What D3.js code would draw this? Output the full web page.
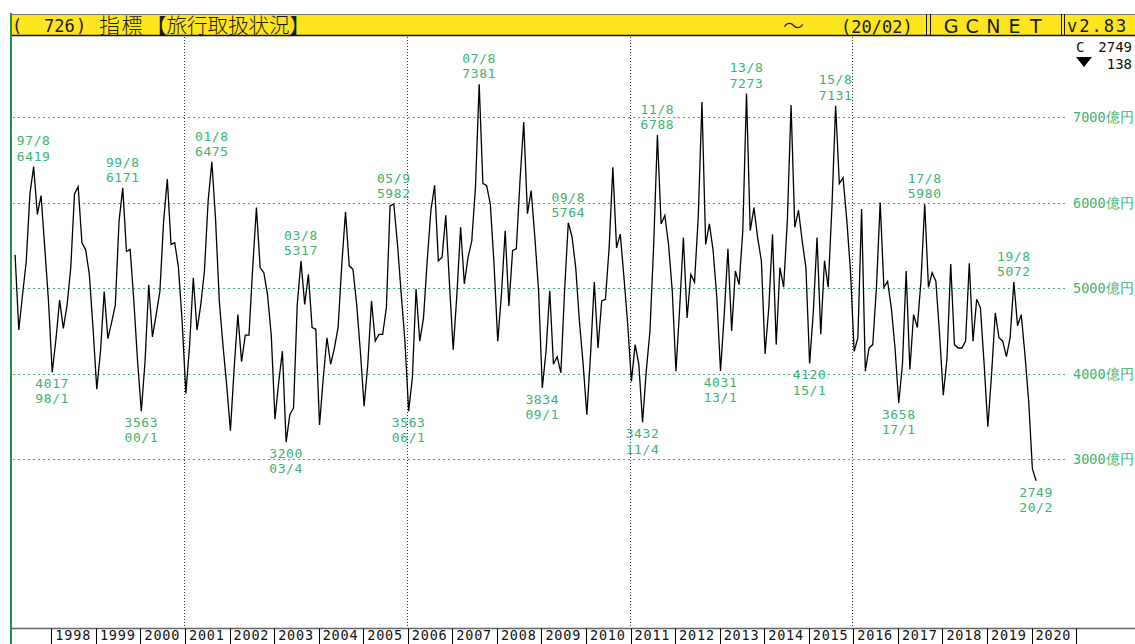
<!DOCTYPE html>
<head>
    <meta charset="utf-8">
    <script src="https://d3js.org/d3.v7.min.js"></script>
    <style>
        body { margin: 0; background: #fff; }
        .mono { font-family: "DejaVu Sans Mono", "Liberation Mono", monospace; font-size: 13px; }
        .green { fill: #3cb371; }
    </style>
</head>

<body>
    <div id='chart-container'></div>
</body>

<script>
    // monthly values (億円), first point = 1997/03
    var startYear = 1997, startMonth = 3;
    var values = [
        5390, 4510, 4920, 5310, 6100, 6419, 5860, 6080, 5470, 4850,
        4017, 4400, 4860, 4530, 4800, 5240, 6100, 6185, 5530, 5450, 5160, 4530,
        3820, 4260, 4960, 4410, 4600, 4800, 5780, 6171, 5430, 5450, 4840, 4140,
        3563, 4140, 5040, 4430, 4690, 4960, 5780, 6275, 5510, 5530, 5240, 4610,
        3770, 4330, 5120, 4510, 4800, 5200, 6020, 6475, 5800, 4850, 4330, 3860,
        3335, 4060, 4690, 4140, 4450, 4450, 5240, 5940, 5240, 5180, 4920, 4450,
        3470, 3900, 4263, 3200, 3520, 3600, 4810, 5317, 4810, 5160, 4540, 4520,
        3400, 3950, 4420, 4110, 4300, 4540, 5280, 5890, 5260, 5220, 4810, 4260,
        3620, 4110, 4850, 4380, 4460, 4460, 4770, 5960, 5982, 5510, 4930, 4380,
        3563, 3950, 4990, 4380, 4650, 5320, 5910, 6200, 5320, 5360, 5850, 5050,
        4280, 4930, 5710, 5050, 5360, 5550, 6180, 7381, 6220, 6200, 5980, 5280,
        4380, 4930, 5670, 4790, 5440, 5460, 6260, 6940, 5870, 6140, 5590, 4970,
        3834, 4260, 4970, 4110, 4200, 4010, 4970, 5764, 5600, 5240, 4610, 4110,
        3520, 4230, 5070, 4300, 4850, 4870, 5470, 6410, 5470, 5630, 5120, 4580,
        3910, 4340, 4110, 3432, 4030, 4500, 5510, 6788, 5750, 5850, 5510, 4970,
        4030, 4770, 5590, 4650, 5160, 5070, 5830, 7175, 5510, 5750, 5440, 4890,
        4031, 4690, 5460, 4500, 5200, 5040, 5670, 7273, 5670, 5940, 5590, 5320,
        4230, 4770, 5630, 4340, 5240, 5010, 5790, 7140, 5710, 5910, 5550, 5240,
        4120, 4730, 5590, 4460, 5320, 5010, 5940, 7131, 6220, 6290, 5800, 5200,
        4260, 4420, 5925, 4030, 4300, 4340, 5010, 6000, 5010, 5080, 4770, 4300,
        3658, 4110, 5200, 4050, 4690, 4540, 5090, 5980, 5010, 5180, 5080, 4460,
        3750, 4180, 5280, 4340, 4300, 4300, 4380, 5290, 4380, 4870, 4770, 4110,
        3380, 3990, 4710, 4420, 4380, 4200, 4420, 5072, 4560, 4690, 4220, 3680,
        2887, 2749
    ];
    var peaks = [["97/8", 6419], ["99/8", 6171], ["01/8", 6475], ["03/8", 5317], ["05/9", 5982], ["07/8", 7381],
                 ["09/8", 5764], ["11/8", 6788], ["13/8", 7273], ["15/8", 7131], ["17/8", 5980], ["19/8", 5072]];
    var troughs = [["98/1", 4017], ["00/1", 3563], ["03/4", 3200], ["06/1", 3563], ["09/1", 3834],
                   ["11/4", 3432], ["13/1", 4031], ["15/1", 4120], ["17/1", 3658], ["20/2", 2749]];
    var yTicks = [3000, 4000, 5000, 6000, 7000];
    var yearLabels = [1998, 1999, 2000, 2001, 2002, 2003, 2004, 2005, 2006, 2007, 2008, 2009,
                      2010, 2011, 2012, 2013, 2014, 2015, 2016, 2017, 2018, 2019, 2020];
    var gridYears = [2001, 2006, 2011, 2016];
    var lastValue = 2749, lastChange = 138;

    var width = 1135, height = 644;
    var axisY = 628.5;
    var lineGap = 15.2;

    var svg = d3.select("#chart-container").append("svg")
        .attr("width", width)
        .attr("height", height);

    // x runs on month index counted from Jan 1997
    var x = d3.scaleLinear().domain([0, 288]).range([5.8, 1075.1]);
    var y = d3.scaleLinear().domain([3000, 7000]).range([459.3, 116.9]);

    function monthX(k) { return x(k + 0.5); }
    function kOfLabel(s) {
        var p = s.split("/");
        var yr = +p[0] > 50 ? 1900 + +p[0] : 2000 + +p[0];
        return (yr - 1997) * 12 + (+p[1] - 1);
    }
    function note(g, str, px, py) {
        return g.append("text")
            .attr("x", px).attr("y", py)
            .attr("text-anchor", "middle")
            .attr("letter-spacing", 0.6)
            .text(str);
    }

    var startK = (startYear - 1997) * 12 + startMonth - 1;
    var data = values.map(function(v, i) { return {k: startK + i, v: v}; });

    // horizontal grid
    svg.append("g").selectAll("line")
        .data(yTicks).enter().append("line")
        .attr("x1", 13).attr("x2", 1068)
        .attr("y1", function(d) { return Math.round(y(d)) + 0.5; })
        .attr("y2", function(d) { return Math.round(y(d)) + 0.5; })
        .attr("stroke", "#3cb371")
        .attr("stroke-width", 1)
        .attr("stroke-dasharray", "2,3");

    svg.append("g").attr("class", "mono green").style("font-size", "13.5px")
        .selectAll("text")
        .data(yTicks).enter().append("text")
        .attr("x", 1073)
        .attr("y", function(d) { return y(d) + 5; })
        .text(function(d) { return d + "億円"; });

    // vertical dotted lines every 5 years
    svg.append("g").selectAll("line")
        .data(gridYears).enter().append("line")
        .attr("x1", function(d) { return Math.round(x((d - 1997) * 12)) + 0.5; })
        .attr("x2", function(d) { return Math.round(x((d - 1997) * 12)) + 0.5; })
        .attr("y1", 37).attr("y2", axisY)
        .attr("stroke", "#333")
        .attr("stroke-dasharray", "1,2");

    // series
    var line = d3.line()
        .x(function(d) { return monthX(d.k); })
        .y(function(d) { return y(d.v); });
    svg.append("path")
        .datum(data)
        .attr("d", line)
        .attr("fill", "none")
        .attr("stroke", "#000")
        .attr("stroke-width", 1.3);

    // peak / trough annotations
    var ann = svg.append("g").attr("class", "mono green");
    peaks.forEach(function(p) {
        var px = monthX(kOfLabel(p[0])), py = y(p[1]);
        note(ann, p[0], px, py - 6 - lineGap);
        note(ann, String(p[1]), px, py - 6);
    });
    troughs.forEach(function(p) {
        var px = monthX(kOfLabel(p[0])), py = y(p[1]);
        note(ann, String(p[1]), px, py + 16);
        note(ann, p[0], px, py + 16 + lineGap);
    });

    // year strip
    svg.append("line")
        .attr("x1", 12).attr("x2", width)
        .attr("y1", axisY).attr("y2", axisY)
        .attr("stroke", "#666").attr("stroke-width", 1.5);
    var yearG = svg.append("g").attr("class", "mono").style("font-size", "13.5px");
    yearG.selectAll("line")
        .data(yearLabels.concat([2021])).enter().append("line")
        .attr("x1", function(d) { return Math.round(x((d - 1997) * 12)) + 1.5; })
        .attr("x2", function(d) { return Math.round(x((d - 1997) * 12)) + 1.5; })
        .attr("y1", axisY).attr("y2", height)
        .attr("stroke", "#000");
    yearG.selectAll("text")
        .data(yearLabels).enter().append("text")
        .attr("x", function(d) { return x((d - 1997) * 12) + 5; })
        .attr("y", 640)
        .attr("letter-spacing", 0.8)
        .attr("fill", "#111")
        .text(function(d) { return d; });

    // header bar
    var head = svg.append("g");
    head.append("rect")
        .attr("x", 11).attr("y", 14).attr("width", width - 11).attr("height", 22)
        .attr("fill", "#ffe51e");
    head.append("line").attr("x1", 11).attr("x2", width).attr("y1", 14.5).attr("y2", 14.5)
        .attr("stroke", "#777");
    head.append("line").attr("x1", 11).attr("x2", width).attr("y1", 35.5).attr("y2", 35.5)
        .attr("stroke", "#111").attr("stroke-width", 1.5);
    [926.5, 930.5, 1061.5, 1064.5].forEach(function(d) {
        head.append("line").attr("x1", d).attr("x2", d).attr("y1", 14).attr("y2", 36)
            .attr("stroke", "#111");
    });

    var monoFont = "'DejaVu Sans Mono', monospace", cjkFont = "'Noto Sans CJK JP', sans-serif";
    var left = head.append("text").attr("y", 32).attr("fill", "#1a1a1a");
    left.append("tspan").attr("x", 12).style("font-family", monoFont).style("font-size", "17px").text("(");
    left.append("tspan").attr("x", 44).style("font-family", monoFont).style("font-size", "17px").text("726");
    left.append("tspan").attr("x", 76).style("font-family", monoFont).style("font-size", "17px").text(")");
    left.append("tspan").attr("x", 99).attr("y", 33).style("font-family", cjkFont).style("font-size", "21px")
        .style("font-weight", 300).attr("letter-spacing", 1.5).text("指標");
    left.append("tspan").attr("x", 146).attr("y", 33).style("font-family", cjkFont).style("font-size", "20.5px")
        .style("font-weight", 300).text("【旅行取扱状況】");

    var right = head.append("text").attr("y", 32).attr("fill", "#1a1a1a");
    right.append("tspan").attr("x", 783).attr("y", 33).style("font-family", cjkFont).style("font-size", "21px")
        .style("font-weight", 300).text("〜");
    right.append("tspan").attr("x", 841).style("font-family", monoFont).style("font-size", "17px").text("(20/02)");
    "GCNET".split("").forEach(function(c, i) {
        right.append("tspan").attr("x", 951 + i * 21.2).attr("text-anchor", "middle")
            .style("font-family", "'DejaVu Sans', sans-serif").style("font-size", "19px")
            .text(c);
    });
    head.append("text").attr("x", 1067).attr("y", 32).attr("fill", "#1a1a1a")
        .style("font-family", monoFont).style("font-size", "17px")
        .attr("letter-spacing", 2).text("v2.83");

    // latest value readout
    var ro = svg.append("g").attr("class", "mono").attr("fill", "#111").style("font-size", "14px");
    ro.append("text").attr("x", 1076).attr("y", 52).text("C");
    ro.append("text").attr("x", 1132).attr("y", 52).attr("text-anchor", "end").text(lastValue);
    ro.append("path").attr("d", "M1076,57L1092,57L1084,67Z").attr("fill", "#000");
    ro.append("text").attr("x", 1132).attr("y", 68.5).attr("text-anchor", "end").text(lastChange);

    // left frame line
    svg.append("line")
        .attr("x1", 11).attr("x2", 11).attr("y1", 13).attr("y2", height)
        .attr("stroke", "#1d8f4e").attr("stroke-width", 2);
</script>
